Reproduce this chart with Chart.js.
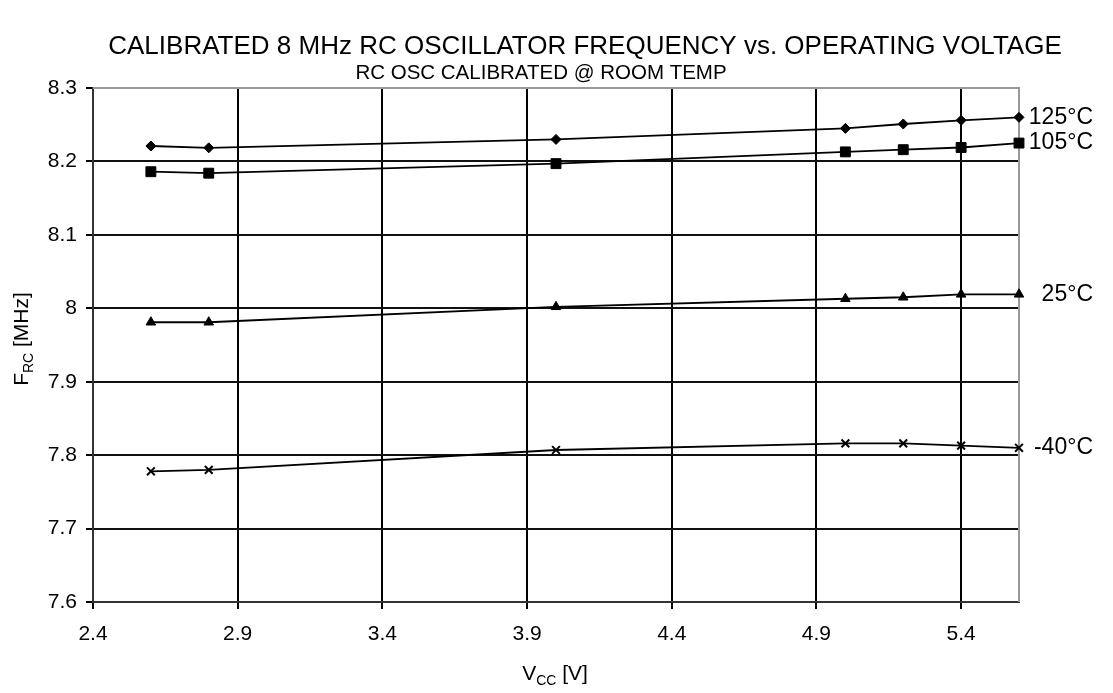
<!DOCTYPE html>
<html>
<head>
<meta charset="utf-8">
<script src="https://cdn.jsdelivr.net/npm/chart.js@4.4.1/dist/chart.umd.min.js"></script>
<style>
  html, body { margin: 0; padding: 0; background: #fff; }
  #wrap { width: 1113px; height: 693px; position: relative; }
</style>
</head>
<body>
<div id="wrap"><canvas id="chart"></canvas></div>
<script>
// values
const vcc = [2.6, 2.8, 4.0, 5.0, 5.2, 5.4, 5.6];
const f125 = [8.221, 8.2185, 8.230, 8.245, 8.251, 8.256, 8.260];
const f105 = [8.186, 8.184, 8.197, 8.213, 8.216, 8.219, 8.225];
const f25 = [7.981, 7.981, 8.002, 8.013, 8.015, 8.019, 8.019];
const fm40 = [7.778, 7.780, 7.807, 7.816, 7.816, 7.813, 7.810];
const seriesNames = ['125°C', '105°C', '25°C', '-40°C'];
const xTicks = [2.4, 2.9, 3.4, 3.9, 4.4, 4.9, 5.4];
const xLabels = ['2.4', '2.9', '3.4', '3.9', '4.4', '4.9', '5.4'];
const yTicks = [7.6, 7.7, 7.8, 7.9, 8.0, 8.1, 8.2, 8.3];
const yLabels = ['7.6', '7.7', '7.8', '7.9', '8', '8.1', '8.2', '8.3'];

const FONT = "'Liberation Sans', Arial, sans-serif";
const pts = ys => vcc.map((x, i) => ({ x, y: ys[i] }));

function ds(label, ys, style, radius) {
  return {
    label, data: pts(ys),
    borderColor: '#000', backgroundColor: '#000', borderWidth: 1.8,
    pointStyle: style, pointRadius: radius, pointHoverRadius: radius,
    pointBorderWidth: style === 'crossRot' ? 2 : 1,
    tension: 0, clip: false
  };
}

// titles, axis titles with subscripts, series labels, plot frame
const decor = {
  id: 'decor',
  beforeDatasetsDraw(chart) {
    const { ctx, chartArea: a } = chart;
    ctx.save();
    ctx.strokeStyle = '#999';
    ctx.lineWidth = 2;
    ctx.beginPath();
    ctx.moveTo(a.left, a.top); ctx.lineTo(a.right, a.top); ctx.lineTo(a.right, a.bottom);
    ctx.stroke();
    ctx.restore();
  },
  afterDraw(chart) {
    const { ctx } = chart;
    ctx.save();
    ctx.fillStyle = '#000';
    ctx.textAlign = 'center';
    ctx.textBaseline = 'middle';
    ctx.font = `26px ${FONT}`;
    ctx.fillText('CALIBRATED 8 MHz RC OSCILLATOR FREQUENCY vs. OPERATING VOLTAGE', 585, 47);
    ctx.font = `20.5px ${FONT}`;
    ctx.fillText('RC OSC CALIBRATED @ ROOM TEMP', 541, 73);

    // series labels at the end of each line
    ctx.font = `23px ${FONT}`;
    ctx.textAlign = 'right';
    chart.data.datasets.forEach((d, i) => {
      const meta = chart.getDatasetMeta(i);
      const last = meta.data[meta.data.length - 1];
      ctx.fillText(seriesNames[i], 1093, last.y);
    });

    // axis titles with subscripts
    const drawSub = (parts, cx, cy) => {
      ctx.textAlign = 'left';
      ctx.textBaseline = 'alphabetic';
      let w = 0;
      parts.forEach(p => { ctx.font = `${p.size}px ${FONT}`; w += ctx.measureText(p.t).width; });
      let x = cx - w / 2;
      parts.forEach(p => {
        ctx.font = `${p.size}px ${FONT}`;
        ctx.fillText(p.t, x, cy + (p.dy || 0));
        x += ctx.measureText(p.t).width;
      });
    };
    drawSub([{ t: 'V', size: 21 }, { t: 'CC', size: 14, dy: 5 }, { t: ' [V]', size: 21 }], 555, 680);
    ctx.translate(28, 339);
    ctx.rotate(-Math.PI / 2);
    drawSub([{ t: 'F', size: 21 }, { t: 'RC', size: 14, dy: 5 }, { t: ' [MHz]', size: 21 }], 0, 0);
    ctx.restore();
  }
};

new Chart(document.getElementById('chart'), {
  type: 'line',
  data: {
    datasets: [
      ds(seriesNames[0], f125, 'rectRot', 5),
      ds(seriesNames[1], f105, 'rect', 7),
      ds(seriesNames[2], f25, 'triangle', 5.5),
      ds(seriesNames[3], fm40, 'crossRot', 5.5)
    ]
  },
  options: {
    responsive: true,
    maintainAspectRatio: false,
    animation: false,
    events: [],
    clip: false,
    layout: { padding: { top: 88, right: 94, left: 0, bottom: 0 } },
    plugins: { legend: { display: false }, tooltip: { enabled: false }, title: { display: false } },
    scales: {
      x: {
        type: 'linear', min: 2.4, max: 5.6,
        afterBuildTicks: s => { s.ticks = xTicks.map(v => ({ value: v })); },
        afterFit: s => { s.height = 91; },
        grid: { color: '#000', lineWidth: 2, tickLength: 7, tickColor: '#000' },
        border: { color: '#333', width: 2 },
        ticks: { color: '#000', padding: 13, maxRotation: 0, autoSkip: false,
          font: { family: FONT, size: 21 }, callback: (v, i) => xLabels[i] }
      },
      y: {
        type: 'linear', min: 7.6, max: 8.3,
        afterBuildTicks: s => { s.ticks = yTicks.map(v => ({ value: v })); },
        afterFit: s => { s.width = 93; },
        grid: {
          color: c => (c.tick && c.tick.value >= 8.29 ? '#999' : '#111'),
          lineWidth: 2, tickLength: 7, tickColor: '#000'
        },
        border: { color: '#333', width: 2 },
        ticks: { color: '#000', padding: 9, autoSkip: false,
          font: { family: FONT, size: 21 }, callback: (v, i) => yLabels[i] }
      }
    }
  },
  plugins: [decor]
});
</script>
</body>
</html>
